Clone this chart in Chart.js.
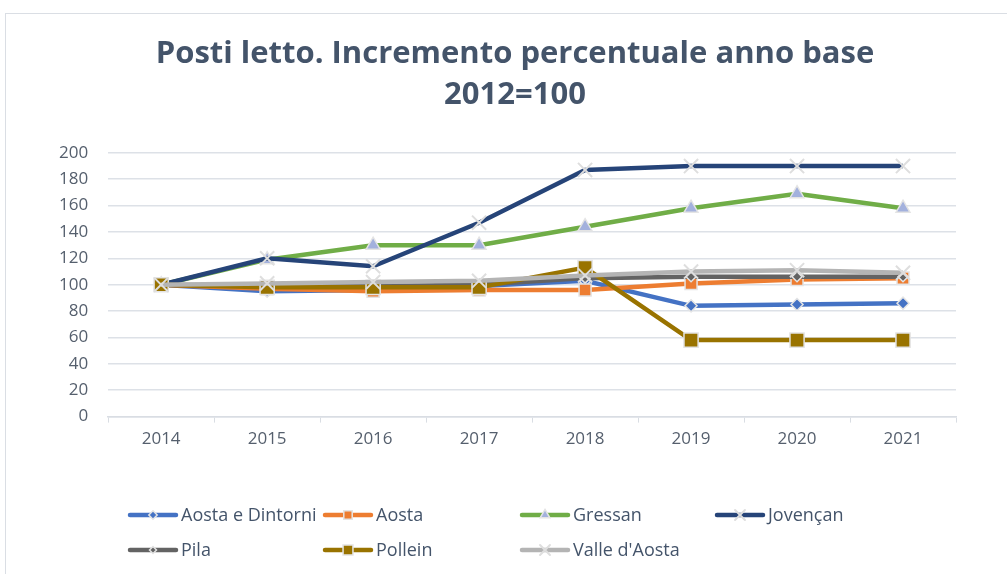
<!DOCTYPE html>
<html>
<head>
<meta charset="utf-8">
<script src="https://cdn.jsdelivr.net/npm/chart.js@4.4.1/dist/chart.umd.min.js"></script>
<style>
  html, body { margin: 0; padding: 0; background: #fff; }
  #frame { position: absolute; left: 5px; top: 13px; width: 1100px; height: 700px; border: 1.5px solid #dadee4; }
  #wrap { position: absolute; left: 0; top: 0; width: 1007px; height: 574px; }
</style>
</head>
<body>
<div id="frame"></div>
<div id="wrap"><canvas id="postiChart"></canvas></div>
<script>
// Posti letto - indice 2012=100
const anni = ["2014", "2015", "2016", "2017", "2018", "2019", "2020", "2021"];

const aostaDintorni = [100, 95, 96, 99, 103, 84, 85, 86];
const aosta = [100, 97, 95, 96, 96, 101, 104, 105];
const gressan = [100, 119, 130, 130, 144, 158, 169, 158];
const jovencan = [100, 120, 114, 147, 187, 190, 190, 190];
const pila = [100, 99, 99, 100, 105, 106, 106, 106];
const pollein = [100, 98, 98, 98, 113, 58, 58, 58];
const valleAosta = [100, 101, 102, 103, 107, 110, 111, 109];

const titolo = ["Posti letto. Incremento percentuale anno base", "2012=100"];

// colonne / righe della legenda in basso
const legendX = [128, 323, 520, 715];
const legendY = [515, 550];

function serie(label, data, color, style, radius, fill, border, borderW) {
  return {
    label: label,
    data: data,
    borderColor: color,
    backgroundColor: color,
    borderWidth: 4.5,
    pointStyle: style,
    pointRadius: radius,
    pointHoverRadius: radius,
    pointBackgroundColor: fill,
    pointBorderColor: border,
    pointBorderWidth: borderW,
    tension: 0,
    fill: false,
  };
}

const datasets = [
  serie("Aosta e Dintorni", aostaDintorni, "#4472c4", "rectRot", 6, "#4472c4", "#e4e4e4", 1.5),
  serie("Aosta", aosta, "#ed7d31", "rect", 8.5, "#ed7d31", "#e4e4e4", 1.5),
  serie("Gressan", gressan, "#70ad47", "triangle", 8, "#a3b1dd", "#e4e4e4", 1.5),
  serie("Jovençan", jovencan, "#264478", "crossRot", 10, "#264478", "#dedede", 2),
  serie("Pila", pila, "#636363", "rectRot", 5, "#636363", "#e4e4e4", 1.5),
  serie("Pollein", pollein, "#997300", "rect", 10, "#997300", "#e4e4e4", 1.5),
  serie("Valle d'Aosta", valleAosta, "#b4b4b4", "crossRot", 10, "#b4b4b4", "#dedede", 2),
];
// l'ultima serie disegnata sopra
datasets.forEach((ds, i) => (ds.order = datasets.length - i));

// titolo centrato come nell'originale (un po' a destra)
const titleShift = {
  id: "titleShift",
  afterLayout(chart) {
    if (chart.titleBlock) chart.titleBlock.left = 74;
  },
};

const bottomLegend = {
  id: "bottomLegend",
  afterDraw(chart) {
    const ctx = chart.ctx;
    chart.data.datasets.forEach((ds, i) => {
      const x = legendX[i % 4];
      const y = legendY[Math.floor(i / 4)];
      ctx.save();
      ctx.strokeStyle = ds.borderColor;
      ctx.lineWidth = 4.5;
      ctx.lineCap = "round";
      ctx.beginPath();
      ctx.moveTo(x + 2, y);
      ctx.lineTo(x + 48, y);
      ctx.stroke();

      ctx.fillStyle = ds.pointBackgroundColor;
      ctx.strokeStyle = ds.pointBorderColor;
      ctx.lineWidth = ds.pointBorderWidth;
      const opts = { pointStyle: ds.pointStyle, radius: ds.pointRadius * 0.7, rotation: 0, borderWidth: ds.pointBorderWidth };
      if (Chart.helpers && Chart.helpers.drawPoint) {
        Chart.helpers.drawPoint(ctx, opts, x + 25, y);
      } else {
        ctx.fillRect(x + 21, y - 4, 8, 8);
      }

      ctx.fillStyle = "#44546a";
      ctx.font = "18px 'Open Sans'";
      ctx.textBaseline = "middle";
      ctx.textAlign = "left";
      ctx.fillText(ds.label, x + 53, y + 1);
      ctx.restore();
    });
  },
};

const ctx = document.getElementById("postiChart");

new Chart(ctx, {
  type: "line",

  data: {
    labels: anni,
    datasets: datasets,
  },

  options: {
    responsive: true,
    maintainAspectRatio: false,
    animation: false,

    layout: {
      padding: { left: 39, right: 51, top: 22, bottom: 119 },
    },

    plugins: {
      legend: {
        display: false,
      },
      tooltip: {
        enabled: false,
      },
      title: {
        display: true,
        text: titolo,
        color: "#44546a",
        font: { family: "'Open Sans'", size: 31, weight: "bold", lineHeight: 1.32 },
        padding: { top: 12, bottom: 37 },
      },
    },

    scales: {
      x: {
        offset: true,
        grid: {
          offset: true,
          drawOnChartArea: false,
          drawTicks: true,
          tickLength: 6,
          color: "#d9dde3",
        },
        border: { display: true, color: "#d9dde3", width: 1.5 },
        ticks: {
          color: "#555f6d",
          font: { family: "'Open Sans'", size: 17 },
          padding: 6,
          maxRotation: 0,
        },
      },

      y: {
        min: 0,
        max: 200,
        grid: {
          drawTicks: false,
          color: "#dde1e7",
          lineWidth: 1.5,
        },
        border: { display: false },
        ticks: {
          stepSize: 20,
          color: "#555f6d",
          font: { family: "'Open Sans'", size: 17 },
          padding: 20,
        },
      },
    },
  },

  plugins: [titleShift, bottomLegend],
});
</script>
</body>
</html>
